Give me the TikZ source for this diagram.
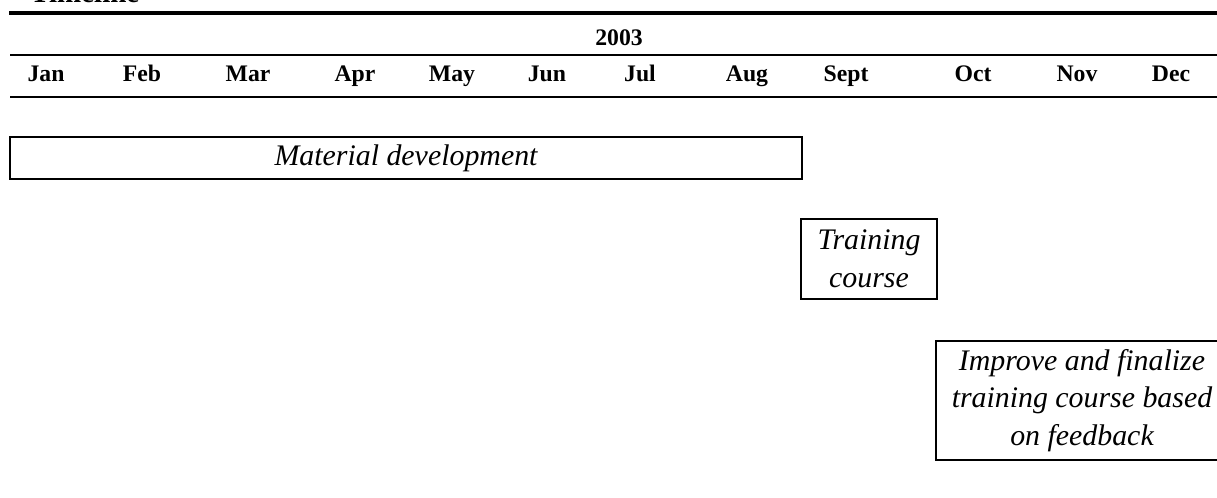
\documentclass[tikz,border=0pt]{standalone}
\usepackage{fontspec}
\setmainfont{Liberation Serif}
\begin{document}
\begin{tikzpicture}[x=0.02cm, y=-0.02cm,
    month/.style={anchor=base, inner sep=0pt, font=\fontsize{13.5}{15}\selectfont\bfseries},
    task/.style={draw, line width=1.1pt, align=center, inner sep=0pt,
                 font=\fontsize{17}{21.5}\selectfont\itshape}]
    \useasboundingbox (0,0) rectangle (1217,497);
    % the heading and the rules of the table
    \node[month, anchor=base west, font=\fontsize{16.5}{18}\selectfont\bfseries] (title) at (30,3) {Timeline};
    \draw[line width=2.2pt] (9,13) -- (1217,13);
    \node[month] (year) at (619,45) {2003};
    \draw[line width=1.1pt] (10,55) -- (1217,55);
    \draw[line width=1.1pt] (10,97) -- (1217,97);
    % the months
    \node[month] (jan) at (46,81) {Jan};
    \node[month] (feb) at (142,81) {Feb};
    \node[month] (mar) at (248,81) {Mar};
    \node[month] (apr) at (355,81) {Apr};
    \node[month] (may) at (452,81) {May};
    \node[month] (jun) at (547,81) {Jun};
    \node[month] (jul) at (640,81) {Jul};
    \node[month] (aug) at (747,81) {Aug};
    \node[month] (sep) at (846,81) {Sept};
    \node[month] (oct) at (973,81) {Oct};
    \node[month] (nov) at (1077,81) {Nov};
    \node[month] (dec) at (1171,81) {Dec};
    % the tasks
    \node[task, minimum width=15.84cm, minimum height=0.84cm] (material) at (406,158) {Material development};
    \node[task, minimum width=2.72cm, minimum height=1.6cm] (training) at (869,259) {Training\\course};
    \node[task, minimum width=5.84cm, minimum height=2.38cm] (improve) at (1082,400.5)
        {Improve and finalize\\training course based\\on feedback};
\end{tikzpicture}
\end{document}
